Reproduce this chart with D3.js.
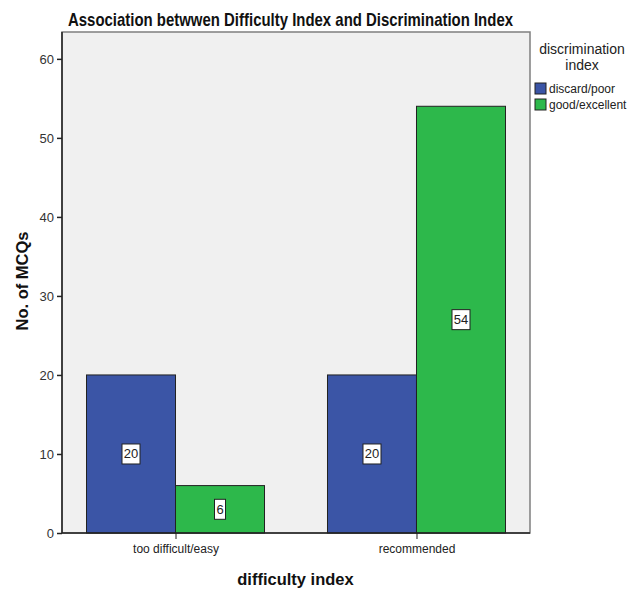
<!DOCTYPE html>
<html><head><meta charset="utf-8">
<script src="https://cdn.jsdelivr.net/npm/d3@7"></script>
<style>body{margin:0;background:#fff;} text{font-family:"Liberation Sans",Arial,sans-serif;}</style>
</head><body>
<svg id="c" width="629" height="589"></svg>
<script>
const categories = ["too difficult/easy", "recommended"];
const seriesNames = ["discard/poor", "good/excellent"];
const discardPoor = [20, 20];
const goodExcellent = [6, 54];
const yTicks = [0, 10, 20, 30, 40, 50, 60];
const colors = ["#3B55A6", "#2DB84B"];

const svg = d3.select("#c");
const L = 62, R = 530, T = 32, B = 533;
const y = d3.scaleLinear().domain([0, 63.4]).range([B, T]);
const x = d3.scalePoint().domain(categories).range([L, R]).padding(0.471);
const bw = 89;

svg.append("rect").attr("x", L).attr("y", T).attr("width", R - L).attr("height", B - T)
  .attr("fill", "#F0F0F0").attr("stroke", "#7F7F7F").attr("stroke-width", 1.5);

const series = [discardPoor, goodExcellent];
series.forEach((vals, s) => {
  categories.forEach((c, i) => {
    const x0 = x(c) + (s === 0 ? -bw : 0);
    svg.append("rect").attr("x", x0).attr("y", y(vals[i])).attr("width", bw)
      .attr("height", y(0) - y(vals[i])).attr("fill", colors[s]).attr("stroke", "#222").attr("stroke-width", 1);
  });
});
// value labels
series.forEach((vals, s) => {
  categories.forEach((c, i) => {
    const cx = x(c) + (s === 0 ? -bw / 2 : bw / 2);
    const cy = y(vals[i] / 2);
    const t = String(vals[i]);
    const w = t.length > 1 ? 18 : 11;
    svg.append("rect").attr("x", cx - w / 2).attr("y", cy - 10).attr("width", w).attr("height", 20)
      .attr("fill", "#fff").attr("stroke", "#222").attr("stroke-width", 1);
    svg.append("text").attr("x", cx).attr("y", cy + 4.5).attr("text-anchor", "middle")
      .attr("font-size", 13).attr("fill", "#222").text(t);
  });
});

// y axis
const ya = svg.append("g").attr("transform", `translate(${L},0)`)
  .call(d3.axisLeft(y).tickValues(yTicks).tickSize(5).tickPadding(3).tickFormat(d3.format("d")));
ya.select(".domain").remove();
ya.selectAll("line").attr("stroke", "#222").attr("stroke-width", 1.5);
ya.selectAll("text").attr("font-size", 13).attr("fill", "#333")
  .style("font-family", '"Liberation Sans",Arial,sans-serif');
svg.append("line").attr("x1", L).attr("x2", L).attr("y1", T).attr("y2", B).attr("stroke", "#222").attr("stroke-width", 1.5);

// x axis
const xa = svg.append("g").attr("transform", `translate(0,${B})`)
  .call(d3.axisBottom(x).tickSize(6).tickPadding(5));
xa.select(".domain").remove();
xa.selectAll("line").attr("stroke", "#222").attr("stroke-width", 1);
xa.selectAll("text").attr("font-size", 12).attr("fill", "#222")
  .style("font-family", '"Liberation Sans",Arial,sans-serif');
svg.append("line").attr("x1", L).attr("x2", R).attr("y1", B).attr("y2", B).attr("stroke", "#222").attr("stroke-width", 1.5);

// titles
svg.append("text").attr("x", 290.5).attr("y", 26).attr("text-anchor", "middle")
  .attr("font-size", 19).attr("font-weight", "bold").attr("fill", "#111")
  .attr("textLength", 445).attr("lengthAdjust", "spacingAndGlyphs")
  .text("Association betwwen Difficulty Index and Discrimination Index");
svg.append("text").attr("x", 295.5).attr("y", 585).attr("text-anchor", "middle")
  .attr("font-size", 16.5).attr("font-weight", "bold").attr("fill", "#111")
  .text("difficulty index");
svg.append("text").attr("transform", "translate(28,281) rotate(-90)").attr("text-anchor", "middle")
  .attr("font-size", 16.5).attr("font-weight", "bold").attr("fill", "#111")
  .text("No. of MCQs");

// legend
svg.append("text").attr("x", 582).attr("y", 54).attr("text-anchor", "middle").attr("font-size", 14).attr("fill", "#222").text("discrimination");
svg.append("text").attr("x", 582).attr("y", 70).attr("text-anchor", "middle").attr("font-size", 14).attr("fill", "#222").text("index");
seriesNames.forEach((n, i) => {
  const yy = 83 + i * 16;
  svg.append("rect").attr("x", 535).attr("y", yy).attr("width", 11).attr("height", 11)
    .attr("fill", colors[i]).attr("stroke", "#222").attr("stroke-width", 1);
  svg.append("text").attr("x", 549).attr("y", yy + 10).attr("font-size", 12).attr("fill", "#222").text(n);
});
</script>
</body></html>
